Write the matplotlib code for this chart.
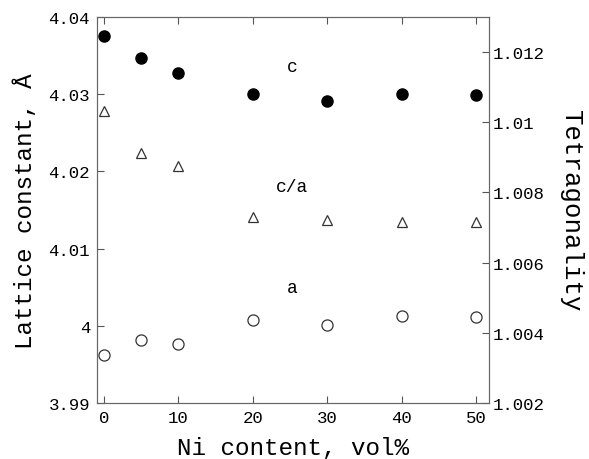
import numpy as np
import matplotlib.pyplot as plt

plt.rcParams['font.family'] = ['Liberation Mono', 'DejaVu Sans Mono']

ni_content = [0, 5, 10, 20, 30, 40, 50]
c_const = [4.0376, 4.0347, 4.0328, 4.0300, 4.0291, 4.0300, 4.0299]
a_const = [3.9962, 3.9981, 3.9977, 4.0007, 4.0001, 4.0013, 4.0012]
tetragonality = [1.01032, 1.00913, 1.00876, 1.00729, 1.00721, 1.00717, 1.00717]

x_ticks = [0, 10, 20, 30, 40, 50]
left_ticks = [3.99, 4.0, 4.01, 4.02, 4.03, 4.04]
left_labels = ['3.99', '4', '4.01', '4.02', '4.03', '4.04']
right_ticks = [1.002, 1.004, 1.006, 1.008, 1.01, 1.012]
right_labels = ['1.002', '1.004', '1.006', '1.008', '1.01', '1.012']

fig = plt.figure(figsize=(5.89, 4.60), dpi=100)
ax = fig.add_axes([0.1647, 0.1217, 0.6655, 0.8392])
ax2 = ax.twinx()

ax.plot(ni_content, c_const, 'o', color='black', markersize=8)
ax.plot(ni_content, a_const, 'o', mfc='white', mec='#333333', mew=0.9, markersize=8)
ax2.plot(ni_content, tetragonality, '^', mfc='white', mec='#333333', mew=0.9, markersize=7)

ax.set_xlim(-0.9, 51.7)
ax.set_ylim(3.99, 4.04)
ax2.set_ylim(1.002, 1.013)

ax.set_xticks(x_ticks)
ax.set_yticks(left_ticks)
ax.set_yticklabels(left_labels)
ax2.set_yticks(right_ticks)
ax2.set_yticklabels(right_labels)

ax.tick_params(direction='in', top=True, labelsize=12.5, length=5, color='#555555', pad=5)
ax2.tick_params(direction='in', labelsize=12.5, length=5, color='#555555', pad=3)
for a in (ax, ax2):
    for s in a.spines.values():
        s.set_color('#666666')

ax.text(25.3, 4.0336, 'c', fontsize=13, ha='center', va='center')
ax.text(25.3, 4.0181, 'c/a', fontsize=13, ha='center', va='center')
ax.text(25.3, 4.0050, 'a', fontsize=13, ha='center', va='center')

ax.set_xlabel('Ni content, vol%', fontsize=17.5, labelpad=8)
ax.set_ylabel('Lattice constant, Å', fontsize=17.5, labelpad=8)
ax2.set_ylabel('Tetragonality', fontsize=18.5, rotation=270, labelpad=27)

fig.savefig('out.png', dpi=100)
